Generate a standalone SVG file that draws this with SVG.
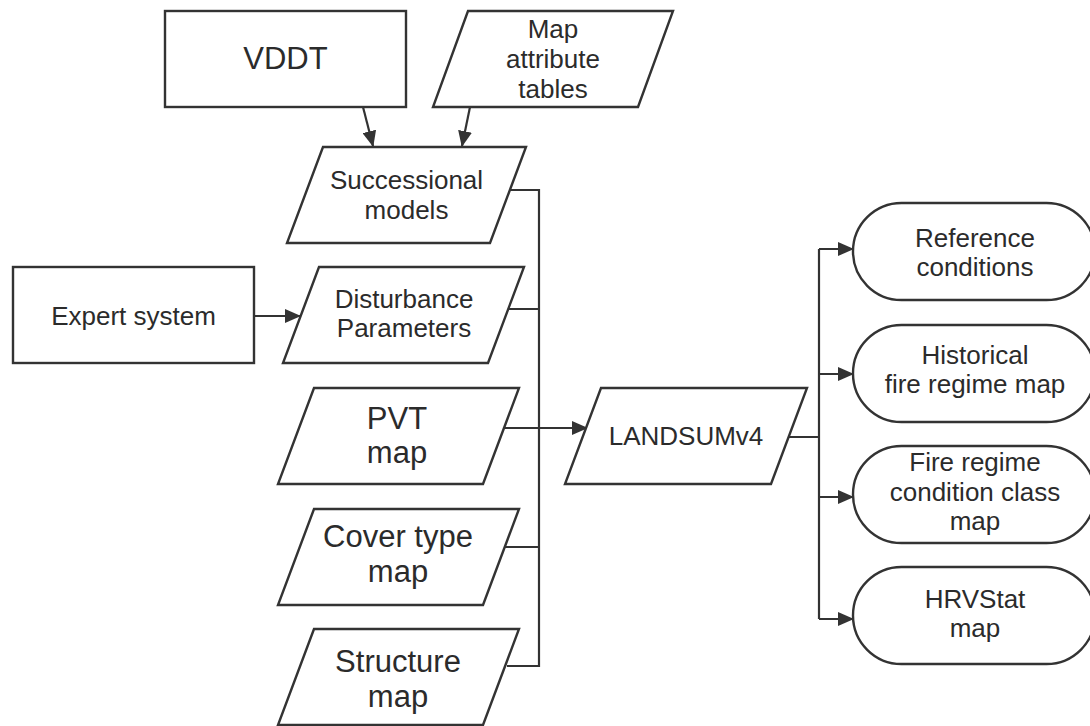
<svg xmlns="http://www.w3.org/2000/svg" width="1090" height="726" viewBox="0 0 1090 726">
<style>
.s{fill:#fff;stroke:#333;stroke-width:2.4;stroke-linejoin:miter}
.c{fill:none;stroke:#333;stroke-width:2.2}
text{font-family:"Liberation Sans",Arial,sans-serif;fill:#2b2b2b;text-anchor:middle}
.f26{font-size:26px}
.f31{font-size:31px}
</style>
<defs>
<marker id="ah" markerUnits="userSpaceOnUse" markerWidth="16" markerHeight="14" refX="15" refY="7" orient="auto">
<path d="M0,0 L16,7 L0,14 z" fill="#333"/>
</marker>
</defs>
<rect width="1090" height="726" fill="#fff"/>
<g id="connectors">
<line class="c" x1="363" y1="107" x2="373" y2="146" marker-end="url(#ah)"/>
<line class="c" x1="470" y1="107" x2="462" y2="146" marker-end="url(#ah)"/>
<line class="c" x1="254" y1="316" x2="300" y2="316" marker-end="url(#ah)"/>
<path class="c" d="M510,190 H539 V666 H507 M508,309 H539 M505,547 H539"/>
<line class="c" x1="505" y1="428" x2="587" y2="428" marker-end="url(#ah)"/>
<path class="c" d="M788,437 H819 M819,249 V619"/>
<line class="c" x1="819" y1="249" x2="853" y2="249" marker-end="url(#ah)"/>
<line class="c" x1="819" y1="374" x2="853" y2="374" marker-end="url(#ah)"/>
<line class="c" x1="819" y1="497" x2="853" y2="497" marker-end="url(#ah)"/>
<line class="c" x1="819" y1="619" x2="853" y2="619" marker-end="url(#ah)"/>
</g>
<g id="vddt">
<rect class="s" x="165" y="11" width="241" height="96"/>
<text class="f31" x="285.5" y="69">VDDT</text>
</g>
<g id="map-attribute-tables">
<polygon class="s" points="468,11 673,11 638,107 433,107"/>
<text class="f26" x="553" y="38">Map</text>
<text class="f26" x="553" y="68">attribute</text>
<text class="f26" x="553" y="98">tables</text>
</g>
<g id="successional-models">
<polygon class="s" points="323,147 526,147 490,243 287,243"/>
<text class="f26" x="406.5" y="189">Successional</text>
<text class="f26" x="406.5" y="219">models</text>
</g>
<g id="expert-system">
<rect class="s" x="13" y="267" width="241" height="96"/>
<text class="f26" x="133.5" y="325">Expert system</text>
</g>
<g id="disturbance-parameters">
<polygon class="s" points="319,267 524,267 488,363 283,363"/>
<text class="f26" x="404" y="308">Disturbance</text>
<text class="f26" x="404" y="337">Parameters</text>
</g>
<g id="pvt-map">
<polygon class="s" points="314,388 519,388 483,484 278,484"/>
<text class="f31" x="397" y="429">PVT</text>
<text class="f31" x="397" y="463">map</text>
</g>
<g id="cover-type-map">
<polygon class="s" points="314,509 519,509 483,605 278,605"/>
<text class="f31" x="398" y="547">Cover type</text>
<text class="f31" x="398" y="582">map</text>
</g>
<g id="structure-map">
<polygon class="s" points="314,629 519,629 483,725 278,725"/>
<text class="f31" x="398" y="672">Structure</text>
<text class="f31" x="398" y="707">map</text>
</g>
<g id="landsum">
<polygon class="s" points="601,388 807,388 771,484 565,484"/>
<text class="f26" x="686" y="445">LANDSUMv4</text>
</g>
<g id="reference-conditions">
<rect class="s" x="853" y="203" width="242" height="97" rx="48.5" ry="48.5"/>
<text class="f26" x="975" y="247">Reference</text>
<text class="f26" x="975" y="276">conditions</text>
</g>
<g id="historical-fire-regime-map">
<rect class="s" x="853" y="325" width="242" height="97" rx="48.5" ry="48.5"/>
<text class="f26" x="975" y="364">Historical</text>
<text class="f26" x="975" y="393">fire regime map</text>
</g>
<g id="fire-regime-condition-class-map">
<rect class="s" x="853" y="446" width="242" height="97" rx="48.5" ry="48.5"/>
<text class="f26" x="975" y="471">Fire regime</text>
<text class="f26" x="975" y="501">condition class</text>
<text class="f26" x="975" y="530">map</text>
</g>
<g id="hrvstat-map">
<rect class="s" x="853" y="567" width="242" height="97" rx="48.5" ry="48.5"/>
<text class="f26" x="975" y="608">HRVStat</text>
<text class="f26" x="975" y="637">map</text>
</g>
</svg>
